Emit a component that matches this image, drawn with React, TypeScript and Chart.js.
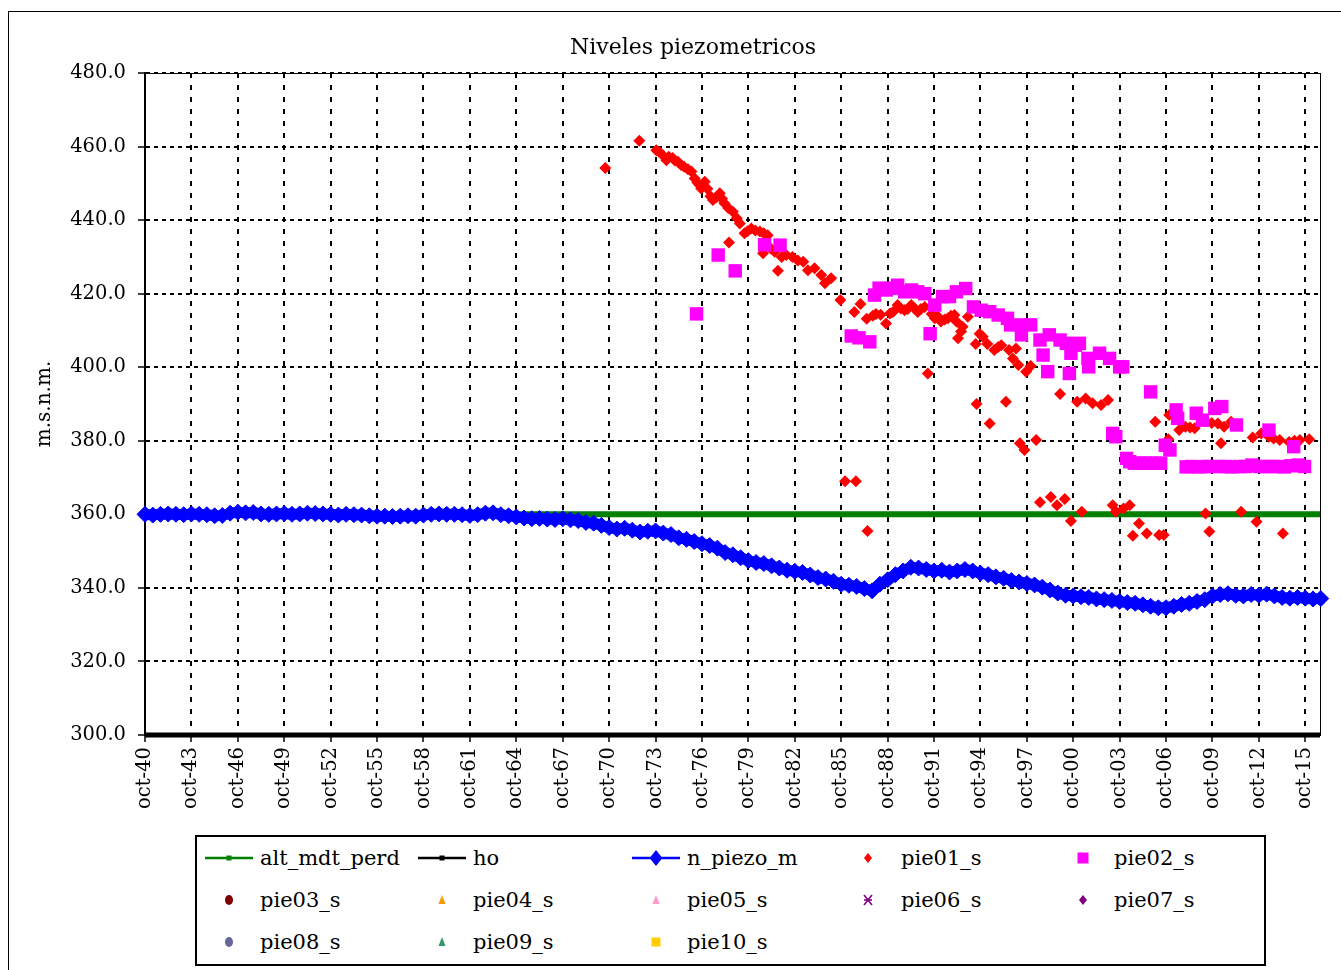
import React, { useEffect, useRef } from 'react';
import { Chart, registerables } from 'chart.js';

Chart.register(...registerables);

const TITLE = 'Niveles piezometricos';
const Y_LABEL = 'm.s.n.m.';
const Y_MIN = 300;
const Y_MAX = 480;
const Y_STEP = 20;
const X_MIN = 1940.75;
const X_MAX = 2016.7;

const xTickDates = [
  1940.75, 1943.75, 1946.75, 1949.75, 1952.75, 1955.75, 1958.75, 1961.75, 1964.75,
  1967.75, 1970.75, 1973.75, 1976.75, 1979.75, 1982.75, 1985.75, 1988.75, 1991.75,
  1994.75, 1997.75, 2000.75, 2003.75, 2006.75, 2009.75, 2012.75, 2015.75,
];
const xTickLabels = [
  'oct-40', 'oct-43', 'oct-46', 'oct-49', 'oct-52', 'oct-55', 'oct-58', 'oct-61', 'oct-64',
  'oct-67', 'oct-70', 'oct-73', 'oct-76', 'oct-79', 'oct-82', 'oct-85', 'oct-88', 'oct-91',
  'oct-94', 'oct-97', 'oct-00', 'oct-03', 'oct-06', 'oct-09', 'oct-12', 'oct-15',
];

// alt_mdt_perd
const altDates = [1940.75, 2016.7];
const altValues = [360, 360];
// ho
const hoDates = [1940.75, 2016.7];
const hoValues = [300, 300];

// n_piezo_m : half-yearly readings starting oct-1940
const piezoStart = 1940.75;
const piezoStep = 0.5;
const piezoValues = [
  360.0, 359.8, 360.0, 360.1, 360.0, 359.9, 360.1, 360.0, 359.9, 359.6,
  359.7, 360.3, 360.6, 360.4, 360.5, 360.1, 360.0, 360.1, 360.2, 360.0,
  360.1, 360.3, 360.2, 360.1, 360.0, 359.8, 360.0, 359.9, 359.8, 359.6,
  359.5, 359.5, 359.4, 359.5, 359.6, 359.5, 359.8, 360.0, 360.1, 360.0,
  360.0, 359.9, 359.7, 359.9, 360.3, 360.4, 359.9, 359.6, 359.3, 359.0,
  358.8, 358.9, 358.7, 358.6, 358.8, 358.5, 358.3, 357.8, 357.6, 357.0,
  356.4, 356.0, 356.2, 355.7, 355.2, 355.4, 355.5, 354.9, 354.5, 353.6,
  353.2, 352.6, 352.0, 351.5, 350.8, 349.6, 349.0, 348.2, 347.4, 346.9,
  346.6, 346.0, 345.4, 344.8, 344.5, 344.2, 343.5, 342.8, 342.4, 341.8,
  341.0, 340.7, 340.4, 339.8, 339.2, 341.0, 342.2, 343.6, 344.6, 345.6,
  345.4, 345.0, 344.6, 344.8, 344.3, 344.6, 345.0, 344.6, 344.0, 343.6,
  343.0, 342.6, 342.0, 341.6, 341.2, 340.8, 340.2, 339.4, 338.6, 338.0,
  337.8, 337.6, 337.4, 337.0, 336.8, 336.6, 336.3, 336.0, 335.8, 335.4,
  335.0, 334.6, 334.6, 335.0, 335.5, 335.8, 336.3, 336.8, 337.8, 338.2,
  338.4, 338.0, 337.8, 338.2, 338.0, 338.3, 337.8, 337.4, 337.2, 337.4,
  337.2, 337.0, 337.1,
];

// pie01_s
const pie01Dates = [
  1970.5, 1972.7, 1973.8, 1974.0, 1974.2, 1974.45, 1974.6, 1974.85, 1975.0, 1975.2,
  1975.4, 1975.6, 1975.85, 1976.07, 1976.28, 1976.45, 1976.6, 1976.7, 1976.93, 1977.1,
  1977.3, 1977.46, 1977.7, 1977.9, 1978.05, 1978.2, 1978.45, 1978.75, 1979.0, 1979.2,
  1979.5, 1979.7, 1979.94, 1980.2, 1980.5, 1980.75, 1981.0, 1978.5, 1980.7, 1981.2,
  1981.45, 1981.66, 1981.9, 1982.2, 1982.6, 1982.95, 1983.3, 1983.6, 1984.03, 1984.46,
  1984.7, 1985.1, 1985.7, 1986.0, 1986.6, 1986.7, 1987.0, 1987.4, 1987.45, 1987.8,
  1988.0, 1988.3, 1988.65, 1988.9, 1989.1, 1989.4, 1989.6, 1989.85, 1990.05, 1990.28,
  1990.5, 1990.7, 1990.9, 1991.15, 1991.35, 1991.6, 1991.8, 1992.0, 1992.2, 1992.45,
  1992.65, 1992.85, 1993.07, 1993.2, 1993.3, 1993.5, 1993.6, 1993.94, 1994.5, 1994.45,
  1994.7, 1994.9, 1995.2, 1995.35, 1995.65, 1995.9, 1996.1, 1996.4, 1996.6, 1996.85,
  1997.05, 1997.2, 1997.3, 1997.6, 1997.7, 1998.0, 1998.35, 1998.6, 1999.3, 1999.7,
  1999.9, 2000.2, 2000.6, 2001.0, 2001.3, 2001.55, 2002.0, 2002.55, 2003.0, 2003.3,
  2003.5, 2004.0, 2004.4, 2004.6, 2005.0, 2005.5, 2006.05, 2006.3, 2006.6, 2006.95,
  2006.9, 2007.6, 2008.0, 2008.3, 2008.6, 2009.2, 2009.3, 2009.55, 2009.7, 2010.1,
  2010.3, 2010.5, 2010.95, 2011.6, 2012.35, 2012.6, 2012.9, 2013.4, 2013.7, 2014.1,
  2014.3, 2014.7, 2015.05, 2015.4, 2016.0,
];
const pie01Values = [
  454.2, 461.6, 459.0, 458.5, 457.7, 456.3, 457.2, 456.9, 456.2, 455.9,
  455.0, 454.5, 453.8, 453.2, 451.3, 450.2, 449.5, 448.6, 450.4, 448.5,
  446.5, 445.5, 446.2, 447.3, 445.8, 444.6, 443.3, 442.3, 440.5, 439.1,
  436.4, 437.0, 437.7, 437.2, 436.9, 436.4, 435.9, 433.9, 431.0, 432.3,
  431.4, 426.2, 430.0, 430.5, 430.0, 429.0, 428.7, 426.4, 426.9, 425.1,
  422.8, 424.2, 418.3, 369.0, 415.0, 369.0, 417.2, 413.2, 355.5, 414.0,
  414.5, 414.3, 411.9, 414.6, 415.0, 416.9, 416.0, 415.5, 415.8, 416.9,
  416.0, 415.0, 415.8, 416.4, 398.3, 414.5, 413.3, 413.8, 412.4, 413.0,
  413.3, 414.0, 414.2, 412.4, 407.9, 409.7, 411.0, 413.7, 390.0, 406.3,
  409.1, 408.3, 406.3, 384.7, 404.7, 405.5, 406.0, 390.6, 404.7, 402.4,
  405.1, 400.6, 379.3, 377.5, 398.8, 400.3, 380.2, 363.3, 364.7, 362.5,
  392.7, 364.2, 358.2, 390.6, 360.7, 391.5, 390.2, 389.7, 391.1, 362.5,
  360.7, 361.6, 362.5, 354.2, 357.5, 354.8, 385.2, 354.4, 354.4, 387.0,
  380.4, 382.9, 383.8, 383.6, 383.4, 385.6, 360.2, 355.3, 384.8, 384.7,
  379.3, 383.8, 385.2, 360.7, 380.9, 358.0, 382.0, 381.1, 380.6, 380.2,
  354.8, 379.7, 380.0, 380.2, 380.4,
];

// pie02_s
const pie02Dates = [
  1976.4, 1977.8, 1978.9, 1980.8, 1981.8, 1986.4, 1986.9, 1987.6, 1987.9, 1988.2,
  1988.66, 1989.0, 1989.4, 1989.85, 1990.3, 1990.7, 1991.15, 1991.5, 1991.8, 1992.3,
  1992.75, 1993.2, 1993.8, 1994.3, 1994.8, 1995.35, 1995.9, 1996.5, 1996.7, 1997.4,
  1997.5, 1998.0, 1998.6, 1998.8, 1999.1, 1999.2, 1999.9, 2000.3, 2000.5, 2000.6,
  2000.9, 2001.15, 2001.7, 2001.75, 2002.45, 2003.1, 2003.3, 2003.5, 2003.75, 2003.95,
  2004.2, 2004.4, 2004.7, 2005.05, 2005.4, 2005.7, 2005.75, 2006.05, 2006.4, 2006.7,
  2007.0, 2007.4, 2007.5, 2008.05, 2008.4, 2008.7, 2008.85, 2009.1, 2009.3, 2009.6,
  2009.9, 2010.35, 2010.2, 2010.6, 2011.0, 2011.3, 2011.5, 2011.9, 2012.3, 2012.8,
  2013.2, 2013.4, 2013.6, 2014.0, 2014.4, 2015.0, 2014.8, 2015.3, 2015.7,
];
const pie02Values = [
  414.5, 430.5, 426.2, 433.3, 433.2, 408.5, 408.0, 406.9, 419.6, 421.5,
  421.0, 421.5, 422.3, 420.5, 421.0, 420.5, 420.0, 409.1, 416.9, 419.2,
  419.2, 420.5, 421.4, 416.4, 415.5, 415.1, 414.2, 413.3, 411.5, 408.8,
  411.5, 411.5, 407.4, 403.3, 398.8, 408.8, 407.4, 406.5, 398.3, 403.8,
  406.0, 406.5, 402.4, 400.1, 403.8, 402.4, 382.0, 381.1, 400.1, 400.1,
  375.2, 374.3, 373.9, 373.9, 373.9, 373.9, 393.3, 373.9, 373.9, 378.8,
  377.5, 388.4, 386.1, 372.9, 373.0, 387.5, 372.9, 385.6, 373.0, 373.0,
  388.8, 389.3, 373.0, 373.0, 372.9, 384.3, 373.0, 373.0, 373.4, 373.0,
  373.0, 382.9, 373.0, 373.0, 372.9, 378.4, 373.2, 373.4, 373.0,
];

const FONT = "'DejaVu Serif', serif";

const toPoints = (xs: number[], ys: number[]) => ys.map((y, i) => ({ x: xs[i], y }));
const piezoPoints = piezoValues.map((y, i) => ({ x: piezoStart + i * piezoStep, y }));

const framePlugin = {
  id: 'frameAndTitle',
  beforeDatasetsDraw(chart: any) {
    const { ctx, chartArea: a } = chart;
    ctx.save();
    ctx.strokeStyle = '#000';
    ctx.lineWidth = 1;
    ctx.strokeRect(Math.round(a.left) + 0.5, Math.round(a.top) + 0.5, a.right - a.left, a.bottom - a.top);
    ctx.restore();
  },
  afterDraw(chart: any) {
    const { ctx } = chart;
    ctx.save();
    ctx.fillStyle = '#000';
    ctx.font = `22px ${FONT}`;
    ctx.textAlign = 'center';
    ctx.textBaseline = 'middle';
    ctx.fillText(TITLE, 693, 48);
    ctx.restore();
  },
};

type MarkerKind = 'lineSquare' | 'lineDiamond' | 'diamond' | 'square' | 'circle' | 'triangle' | 'star';

function Marker({ kind, color, size }: { kind: MarkerKind; color: string; size: number }) {
  const w = 52;
  const h = 20;
  const cx = w / 2;
  const cy = h / 2;
  let shape: any = null;
  if (kind === 'lineSquare' || kind === 'square') {
    shape = <rect x={cx - size / 2} y={cy - size / 2} width={size} height={size} fill={color} />;
  } else if (kind === 'lineDiamond' || kind === 'diamond') {
    shape = (
      <polygon
        points={`${cx},${cy - size} ${cx + size * 0.8},${cy} ${cx},${cy + size} ${cx - size * 0.8},${cy}`}
        fill={color}
      />
    );
  } else if (kind === 'circle') {
    shape = <ellipse cx={cx} cy={cy} rx={size * 0.8} ry={size} fill={color} />;
  } else if (kind === 'triangle') {
    shape = <polygon points={`${cx},${cy - size} ${cx + size * 0.7},${cy + size * 0.8} ${cx - size * 0.7},${cy + size * 0.8}`} fill={color} />;
  } else if (kind === 'star') {
    shape = (
      <g stroke={color} strokeWidth={1.6}>
        <line x1={cx - 4} y1={cy - 5} x2={cx + 4} y2={cy + 5} />
        <line x1={cx + 4} y1={cy - 5} x2={cx - 4} y2={cy + 5} />
        <line x1={cx - 4} y1={cy} x2={cx + 4} y2={cy} />
      </g>
    );
  }
  const withLine = kind === 'lineSquare' || kind === 'lineDiamond';
  return (
    <svg width={w} height={h} style={{ position: 'absolute', left: -cx, top: -cy, overflow: 'visible' }}>
      {withLine && <line x1={2} y1={cy} x2={w - 2} y2={cy} stroke={color} strokeWidth={2.5} />}
      {shape}
    </svg>
  );
}

const legendItems: { name: string; kind: MarkerKind; color: string; size: number; col: number; row: number }[] = [
  { name: 'alt_mdt_perd', kind: 'lineSquare', color: '#008000', size: 5, col: 0, row: 0 },
  { name: 'ho', kind: 'lineSquare', color: '#000000', size: 5, col: 1, row: 0 },
  { name: 'n_piezo_m', kind: 'lineDiamond', color: '#0000FF', size: 8, col: 2, row: 0 },
  { name: 'pie01_s', kind: 'diamond', color: '#FF0000', size: 5, col: 3, row: 0 },
  { name: 'pie02_s', kind: 'square', color: '#FF00FF', size: 11, col: 4, row: 0 },
  { name: 'pie03_s', kind: 'circle', color: '#800000', size: 5, col: 0, row: 1 },
  { name: 'pie04_s', kind: 'triangle', color: '#FF9900', size: 5, col: 1, row: 1 },
  { name: 'pie05_s', kind: 'triangle', color: '#FF99CC', size: 5, col: 2, row: 1 },
  { name: 'pie06_s', kind: 'star', color: '#800080', size: 5, col: 3, row: 1 },
  { name: 'pie07_s', kind: 'diamond', color: '#800080', size: 5, col: 4, row: 1 },
  { name: 'pie08_s', kind: 'circle', color: '#666699', size: 5, col: 0, row: 2 },
  { name: 'pie09_s', kind: 'triangle', color: '#339966', size: 5, col: 1, row: 2 },
  { name: 'pie10_s', kind: 'square', color: '#FFCC00', size: 9, col: 2, row: 2 },
];

export default function App() {
  const canvasRef = useRef<HTMLCanvasElement | null>(null);

  useEffect(() => {
    const canvas = canvasRef.current;
    if (!canvas) return;
    const empty = (label: string) => ({ label, data: [], showLine: false, order: 1 });
    const chart = new Chart(canvas, {
      type: 'line',
      data: {
        datasets: [
          {
            label: 'alt_mdt_perd',
            data: toPoints(altDates, altValues),
            borderColor: '#008000',
            borderWidth: 6,
            pointRadius: 0,
            clip: false,
            order: 10,
          },
          {
            label: 'ho',
            data: toPoints(hoDates, hoValues),
            borderColor: '#000000',
            borderWidth: 5,
            pointRadius: 0,
            clip: false,
            order: 9,
          },
          {
            label: 'n_piezo_m',
            data: piezoPoints,
            borderColor: '#0000FF',
            borderWidth: 11,
            borderJoinStyle: 'round',
            borderCapStyle: 'round',
            pointStyle: 'rectRot',
            pointRadius: 8,
            pointBackgroundColor: '#0000FF',
            pointBorderColor: '#0000FF',
            pointBorderWidth: 1,
            clip: false,
            order: 8,
          },
          {
            label: 'pie01_s',
            data: toPoints(pie01Dates, pie01Values),
            showLine: false,
            pointStyle: 'rectRot',
            pointRadius: 6,
            pointBackgroundColor: '#FF0000',
            pointBorderColor: '#FF0000',
            pointBorderWidth: 0,
            order: 7,
          },
          {
            label: 'pie02_s',
            data: toPoints(pie02Dates, pie02Values),
            showLine: false,
            pointStyle: 'rect',
            pointRadius: 9.5,
            pointBackgroundColor: '#FF00FF',
            pointBorderColor: '#FF00FF',
            pointBorderWidth: 0,
            order: 6,
          },
          empty('pie03_s'),
          empty('pie04_s'),
          empty('pie05_s'),
          empty('pie06_s'),
          empty('pie07_s'),
          empty('pie08_s'),
          empty('pie09_s'),
          empty('pie10_s'),
        ] as any,
      },
      options: {
        animation: false,
        responsive: false,
        devicePixelRatio: 1,
        layout: { padding: { left: 30, top: 73, right: 21, bottom: 0 } },
        plugins: {
          legend: { display: false },
          title: { display: false },
          tooltip: { enabled: false },
        },
        elements: { line: { tension: 0 } },
        scales: {
          x: {
            type: 'linear',
            min: X_MIN,
            max: X_MAX,
            afterBuildTicks: (scale: any) => {
              scale.ticks = xTickDates.map((v) => ({ value: v }));
            },
            afterFit: (scale: any) => {
              scale.height = 95;
            },
            ticks: {
              autoSkip: false,
              minRotation: 90,
              maxRotation: 90,
              padding: 5,
              color: '#000',
              font: { family: FONT, size: 19.5 },
              callback: (_v: any, i: number) => xTickLabels[i],
            },
            grid: {
              color: '#000',
              lineWidth: 2,
              tickLength: 7,
              tickColor: '#000',
              tickWidth: 1.5,
              tickBorderDash: [],
            },
            border: { display: true, color: '#000', width: 2, dash: [5, 7] },
          },
          y: {
            type: 'linear',
            min: Y_MIN,
            max: Y_MAX,
            afterFit: (scale: any) => {
              scale.width = 115;
            },
            ticks: {
              stepSize: Y_STEP,
              padding: 12,
              color: '#000',
              font: { family: FONT, size: 19.5 },
              callback: (v: any) => Number(v).toFixed(1),
            },
            title: {
              display: true,
              text: Y_LABEL,
              color: '#000',
              font: { family: FONT, size: 20 },
              padding: { top: 3, bottom: 2 },
            },
            grid: {
              color: '#000',
              lineWidth: 2,
              tickLength: 7,
              tickColor: '#000',
              tickWidth: 1.5,
              tickBorderDash: [],
            },
            border: { display: true, color: '#000', width: 2, dash: [4, 4] },
          },
        },
      } as any,
      plugins: [framePlugin],
    });
    return () => chart.destroy();
  }, []);

  const colText = [260, 473, 687, 901, 1114];
  const colMarker = [229, 442, 656, 868, 1083];
  const rowY = [858, 900, 942];

  return (
    <div style={{ position: 'absolute', left: 0, top: 0, width: 1341, height: 970, overflow: 'hidden', background: '#fff' }}>
      <div
        style={{
          position: 'absolute',
          left: 8,
          top: 11,
          width: 1400,
          height: 1000,
          border: '1px solid #000',
          boxSizing: 'border-box',
        }}
      />
      <canvas ref={canvasRef} width={1341} height={830} style={{ position: 'absolute', left: 0, top: 0, width: 1341, height: 830 }} />
      <div
        style={{
          position: 'absolute',
          left: 195,
          top: 835,
          width: 1071,
          height: 131,
          border: '2px solid #000',
          boxSizing: 'border-box',
          background: '#fff',
        }}
      />
      {legendItems.map((it) => (
        <React.Fragment key={it.name}>
          <div style={{ position: 'absolute', left: colMarker[it.col], top: rowY[it.row], width: 0, height: 0 }}>
            <Marker kind={it.kind} color={it.color} size={it.size} />
          </div>
          <div
            style={{
              position: 'absolute',
              left: colText[it.col],
              top: rowY[it.row] - 14,
              height: 28,
              lineHeight: '28px',
              fontFamily: FONT,
              fontSize: 21,
              color: '#000',
              whiteSpace: 'nowrap',
            }}
          >
            {it.name}
          </div>
        </React.Fragment>
      ))}
    </div>
  );
}
